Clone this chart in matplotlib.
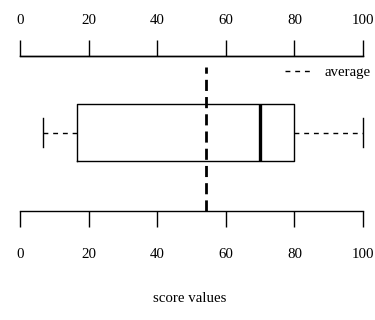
import matplotlib
matplotlib.use("Agg")
import matplotlib.pyplot as plt
from matplotlib.lines import Line2D

plt.rcParams['font.family'] = ['Liberation Serif', 'DejaVu Serif']

# Data
tick_values = [0, 20, 40, 60, 80, 100]
whisker_low = 6.7
q1 = 16.6
median = 70
q3 = 80
whisker_high = 100
average = 54.2
xlabel = "score values"
legend_label = "average"

W, H = 375, 320
FS = 10.7
fig = plt.figure(figsize=(W / 100, H / 100), dpi=100)
ax = fig.add_axes([20 / W, 1 - 211 / H, (363 - 20) / W, (211 - 56) / H])
ax.set_xlim(tick_values[0], tick_values[-1])
ax.set_ylim(0, 1)

stats = [dict(med=median, q1=q1, q3=q3, whislo=whisker_low, whishi=whisker_high, fliers=[])]
res = ax.bxp(stats, positions=[0.506], widths=0.368, orientation='horizontal',
             showfliers=False, capwidths=0.19,
             boxprops=dict(color='black', linewidth=1.0),
             medianprops=dict(color='black', linewidth=2.4),
             whiskerprops=dict(color='black', linewidth=1.0, linestyle=(0, (3.5, 3.5))),
             capprops=dict(color='black', linewidth=1.0),
             manage_ticks=False)
for key in res:
    for art in res[key]:
        art.set_clip_on(False)

ax.axvline(average, ymin=0, ymax=(211 - 67) / (211 - 56), color='black',
           linewidth=2.0, linestyle=(0, (4, 2.2)))

for s in ['left', 'right']:
    ax.spines[s].set_visible(False)
ax.spines['top'].set_linewidth(1.0)
ax.spines['bottom'].set_linewidth(1.0)
ax.set_yticks([])
ax.set_xticks(tick_values)
ax.set_xticklabels([str(v) for v in tick_values])
ax.tick_params(axis='x', which='both', top=False, bottom=True, labeltop=False,
               labelbottom=True, direction='out', length=11.5, width=1.0,
               labelsize=FS, pad=15)

sec = ax.secondary_xaxis('top')
sec.set_xticks(tick_values)
sec.set_xticklabels([str(v) for v in tick_values])
sec.tick_params(axis='x', direction='out', length=11.5, width=1.0,
                labelsize=FS, pad=9.5)
sec.spines['top'].set_linewidth(1.0)

fig.text(190 / W, 1 - 298 / H, xlabel, ha='center', va='center', fontsize=FS)

handle = Line2D([], [], color='black', linewidth=1.0, linestyle=(0, (3.5, 3.5)))
fig.legend([handle], [legend_label], loc='center right',
           bbox_to_anchor=(371 / W, 1 - 72 / H), frameon=False, fontsize=FS,
           handlelength=1.7, handletextpad=1.0, borderaxespad=0, borderpad=0)

fig.savefig("out.png", dpi=100)
